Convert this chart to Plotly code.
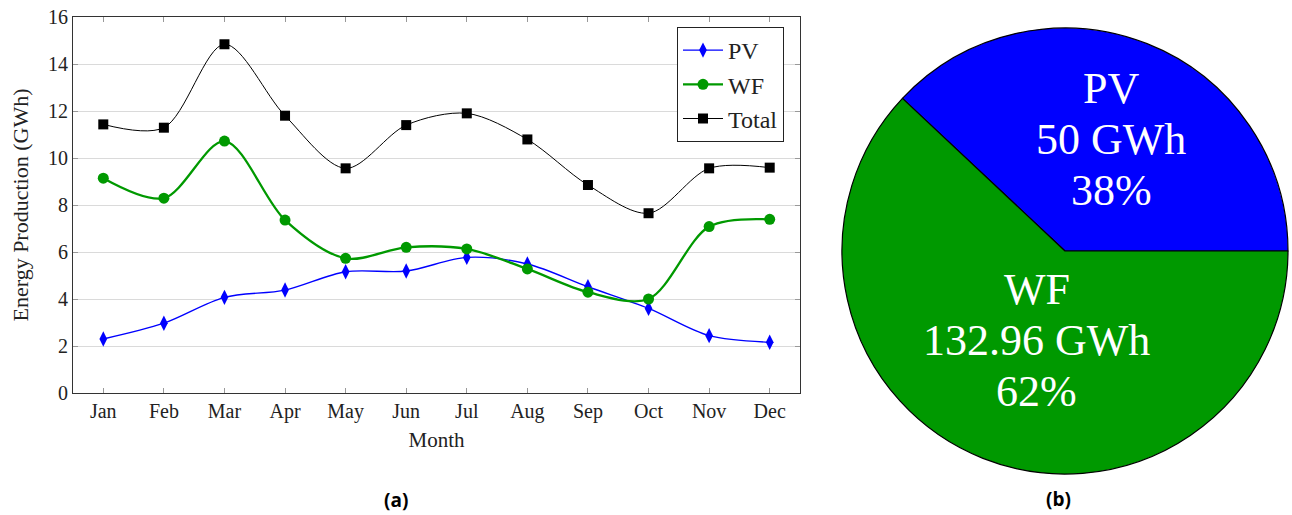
import plotly.graph_objects as go
import math

months = ["Jan", "Feb", "Mar", "Apr", "May", "Jun", "Jul", "Aug", "Sep", "Oct", "Nov", "Dec"]
pv = [2.30, 2.97, 4.07, 4.38, 5.16, 5.19, 5.77, 5.49, 4.52, 3.60, 2.44, 2.16]
wf = [9.14, 8.29, 10.72, 7.36, 5.73, 6.20, 6.13, 5.28, 4.29, 4.00, 7.08, 7.39]
total = [11.43, 11.29, 14.84, 11.80, 9.56, 11.40, 11.90, 10.79, 8.85, 7.65, 9.56, 9.59]
y_ticks = [0, 2, 4, 6, 8, 10, 12, 14, 16]

pie_labels = ["PV", "WF"]
pie_energy = ["50", "132.96"]
pie_percent = [38, 62]

BLUE = "#0000FF"
GREEN = "#009900"
SERIF = "Liberation Serif"
W, H = 1292, 515

fig = go.Figure()

fig.add_trace(go.Scatter(
    x=months, y=pv, name="PV", mode="lines+markers",
    line=dict(color=BLUE, width=1.4, shape="spline", smoothing=0.9),
    marker=dict(symbol="diamond-tall", size=11, color=BLUE),
    xaxis="x", yaxis="y"))
fig.add_trace(go.Scatter(
    x=months, y=wf, name="WF", mode="lines+markers",
    line=dict(color=GREEN, width=2.3, shape="spline", smoothing=0.9),
    marker=dict(symbol="circle", size=11, color=GREEN),
    xaxis="x", yaxis="y"))
fig.add_trace(go.Scatter(
    x=months, y=total, name="Total", mode="lines+markers",
    line=dict(color="black", width=1, shape="spline", smoothing=0.9),
    marker=dict(symbol="square", size=10, color="black"),
    xaxis="x", yaxis="y"))

# first slice (PV) starts at 3 o'clock and runs counter-clockwise
pv_share = pie_percent[0] / sum(pie_percent)
pie_rotation = 90 - 360 * pv_share

pie_dom_x = [842 / W, 1288 / W]
pie_dom_y = [1 - 474 / H, 1 - 28 / H]
fig.add_trace(go.Pie(
    labels=pie_labels, values=pie_percent, sort=False,
    direction="counterclockwise", rotation=pie_rotation,
    marker=dict(colors=[BLUE, GREEN], line=dict(color="black", width=1.2)),
    textinfo="none", hoverinfo="label+percent", showlegend=False,
    domain=dict(x=pie_dom_x, y=pie_dom_y)))

# pie text labels (built from the data)
cx, cy, r = 1065, 251, 223
label_pos = [(67.5, 0.54), (252.5, 0.42)]
annotations = []
for lab, en, pc, (ang, fr) in zip(pie_labels, pie_energy, pie_percent, label_pos):
    px = cx + fr * r * math.cos(math.radians(ang))
    py = cy - fr * r * math.sin(math.radians(ang))
    lines = [lab, f"{en} GWh", f"{pc}%"]
    for i, t in enumerate(lines):
        yy = py + (i - 1) * 51
        annotations.append(dict(
            text=t, x=px / W, y=1 - yy / H, xref="paper", yref="paper",
            xanchor="center", yanchor="middle", showarrow=False,
            font=dict(family=SERIF, size=44, color="white")))

annotations.append(dict(text="<b>(a)</b>", x=396 / W, y=1 - 500 / H,
                        xref="paper", yref="paper", showarrow=False,
                        xanchor="center", yanchor="middle",
                        font=dict(family="Open Sans", size=19, color="black")))
annotations.append(dict(text="<b>(b)</b>", x=1058 / W, y=1 - 499 / H,
                        xref="paper", yref="paper", showarrow=False,
                        xanchor="center", yanchor="middle",
                        font=dict(family="Open Sans", size=19, color="black")))

fig.update_layout(
    width=W, height=H,
    margin=dict(l=0, r=0, t=0, b=0, autoexpand=False),
    paper_bgcolor="white", plot_bgcolor="white",
    font=dict(family=SERIF, size=20, color="#222"),
    xaxis=dict(
        domain=[73 / W, 800 / W], anchor="y", automargin=False,
        type="category", range=[-0.5, 11.5],
        showline=True, linecolor="#333", linewidth=1.2, mirror="allticks",
        ticks="inside", ticklen=5, tickcolor="#999", tickwidth=1,
        showgrid=False, zeroline=False,
        tickfont=dict(family=SERIF, size=20, color="#222"),
        title=dict(text="Month", standoff=10, font=dict(family=SERIF, size=21, color="#222")),
    ),
    yaxis=dict(
        domain=[1 - 393 / H, 1 - 17 / H], anchor="x", automargin=False,
        range=[0, 16], tickvals=y_ticks,
        showline=True, linecolor="#333", linewidth=1.2, mirror="allticks",
        ticks="inside", ticklen=5, tickcolor="#999", tickwidth=1,
        showgrid=True, gridcolor="#dadada", gridwidth=1, zeroline=False,
        tickfont=dict(family=SERIF, size=20, color="#222"),
        title=dict(text="Energy Production (GWh)", standoff=13,
                   font=dict(family=SERIF, size=22, color="#222")),
    ),
    legend=dict(
        x=784 / W, y=1 - 27 / H, xanchor="right", yanchor="top",
        bgcolor="white", bordercolor="#222", borderwidth=1,
        font=dict(family=SERIF, size=24, color="#222"),
        tracegroupgap=0, itemwidth=40,
    ),
    annotations=annotations,
)

fig.write_html("out.html",
               config={"displayModeBar": False},
               post_script="document.body.style.margin='0';document.body.style.overflow='hidden';")
